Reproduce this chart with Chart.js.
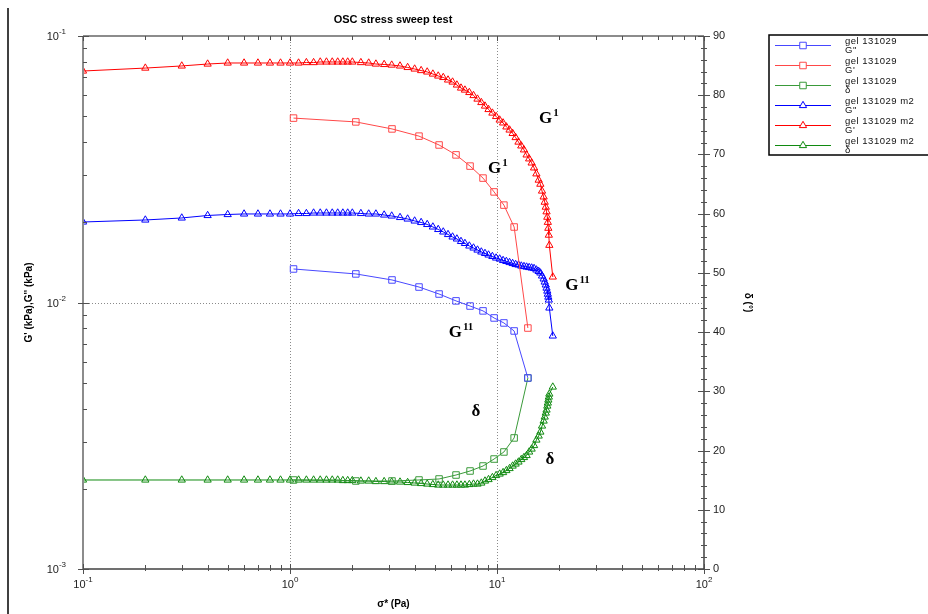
<!DOCTYPE html>
<html>
<head>
<meta charset="utf-8">
<script src="https://cdn.jsdelivr.net/npm/chart.js@4.4.1/dist/chart.umd.min.js"></script>
<style>
  body { margin: 0; background: #fff; }
  canvas { display: block; }
</style>
</head>
<body>
<canvas id="oscChart" width="928" height="614"></canvas>
<script>
// gel 131029 (squares)
const xGel = [1.04, 2.08, 3.11, 4.2, 5.25, 6.34, 7.41, 8.56, 9.68, 10.8, 12.1, 14.1];
const gelGpp = [0.01336, 0.0128, 0.01215, 0.01143, 0.01076, 0.01014, 0.0097, 0.0093, 0.00875, 0.00838, 0.00782, 0.00521];
const gelGp = [0.0492, 0.0476, 0.0448, 0.0421, 0.039, 0.0358, 0.0325, 0.0293, 0.026, 0.0232, 0.0192, 0.00802];
const gelDelta = [15.03, 14.86, 14.86, 15.03, 15.2, 15.87, 16.55, 17.39, 18.57, 19.76, 22.13, 32.25];

// gel 131029 m2 (triangles)
const xM2 = [0.1, 0.2, 0.3, 0.4, 0.5, 0.6, 0.7, 0.8, 0.9, 1.0,
    1.1, 1.2, 1.3, 1.4, 1.5, 1.6, 1.7, 1.8, 1.9, 2.0,
    2.2, 2.4, 2.6, 2.85, 3.1, 3.4, 3.7, 4.0, 4.3, 4.6, 4.9,
    5.2, 5.5, 5.8, 6.1, 6.4, 6.7, 7.0, 7.35, 7.7, 8.05, 8.4, 8.75, 9.1, 9.5, 9.9,
    10.3, 10.7, 11.1, 11.5, 11.9, 12.3, 12.7, 13.1, 13.5, 13.9, 14.3, 14.7, 15.1, 15.5, 15.9,
    16.2, 16.5, 16.8, 17.0, 17.2, 17.35, 17.5, 17.6, 17.7, 17.8, 17.9, 18.6];
const m2Gp = [0.0739, 0.0758, 0.0772, 0.0785, 0.0792, 0.0792, 0.0792, 0.0792, 0.0792, 0.0792,
    0.0792, 0.0795, 0.0795, 0.0799, 0.0799, 0.0799, 0.0799, 0.0799, 0.0799, 0.0799,
    0.0795, 0.0792, 0.0785, 0.0782, 0.0778, 0.0772, 0.0762, 0.0752, 0.0742, 0.0733, 0.072,
    0.0708, 0.0699, 0.0684, 0.0672, 0.0655, 0.0638, 0.0627, 0.0614, 0.0598, 0.058, 0.0563, 0.0546, 0.053, 0.0514, 0.0499,
    0.0484, 0.0472, 0.0456, 0.0444, 0.0431, 0.0416, 0.04, 0.0387, 0.0374, 0.0358, 0.0346, 0.0334, 0.032, 0.0304, 0.0288,
    0.0278, 0.0262, 0.0249, 0.0238, 0.0228, 0.0219, 0.0209, 0.02, 0.019, 0.0179, 0.0164, 0.01247];
const m2Gpp = [0.02005, 0.0204, 0.02076, 0.02121, 0.02139, 0.02149, 0.02149, 0.02149, 0.02149, 0.02149,
    0.02158, 0.02158, 0.02167, 0.02167, 0.02167, 0.02167, 0.02167, 0.02167, 0.02167, 0.02167,
    0.02158, 0.02149, 0.02149, 0.0213, 0.02112, 0.02085, 0.02058, 0.02023, 0.01997, 0.01963, 0.01921,
    0.0188, 0.0184, 0.018, 0.01762, 0.01732, 0.01695, 0.01666, 0.0163, 0.01602, 0.01574, 0.01548, 0.01528, 0.01508, 0.01489, 0.01469,
    0.01457, 0.01438, 0.01426, 0.01413, 0.01401, 0.01389, 0.01383, 0.01371, 0.01365, 0.01359, 0.01353, 0.01348, 0.01342, 0.01325, 0.01308,
    0.01291, 0.01258, 0.01226, 0.01194, 0.01164, 0.01133, 0.01104, 0.01075, 0.01048, 0.01022, 0.00954, 0.00749];
const m2Delta = [15.03, 15.03, 15.03, 15.03, 15.03, 15.03, 15.03, 15.03, 15.03, 15.03,
    15.03, 15.03, 15.03, 15.03, 15.03, 15.03, 15.03, 14.94, 14.94, 14.94,
    14.86, 14.86, 14.77, 14.77, 14.69, 14.69, 14.61, 14.52, 14.44, 14.35, 14.27,
    14.18, 14.18, 14.18, 14.18, 14.18, 14.18, 14.18, 14.27, 14.35, 14.35, 14.52, 14.86, 15.11, 15.45, 15.79,
    16.04, 16.29, 16.63, 16.97, 17.39, 17.73, 18.07, 18.49, 18.83, 19.17, 19.76, 20.26, 20.85, 21.78, 22.46,
    23.13, 24.15, 24.99, 25.67, 26.34, 26.85, 27.52, 28.03, 28.54, 29.04, 29.55, 30.73];

// axis ticks
const xDecades = [0.1, 1, 10, 100];
const xExponents = ["-1", "0", "1", "2"];
const yDecades = [0.001, 0.01, 0.1];
const yExponents = ["-3", "-2", "-1"];
const deltaTicks = [0, 10, 20, 30, 40, 50, 60, 70, 80, 90];

// text labels placed on the curves
const curveLabels = [
    { text: "G", sup: "1", x: 17.8, y: 0.0497 },
    { text: "G", sup: "1", x: 10.1, y: 0.0322 },
    { text: "G", sup: "11", x: 24.5, y: 0.01173 },
    { text: "G", sup: "11", x: 6.7, y: 0.00782 },
    { text: "δ", sup: "", x: 7.92, y: 0.00395 },
    { text: "δ", sup: "", x: 18.0, y: 0.00261 },
];

const legendItems = [
    { label: ["gel 131029", 'G"'], color: "#4848ff", point: "rect" },
    { label: ["gel 131029", "G'"], color: "#ff4848", point: "rect" },
    { label: ["gel 131029", "δ"], color: "#3a9a3a", point: "rect" },
    { label: ["gel 131029 m2", 'G"'], color: "#0000ff", point: "triangle" },
    { label: ["gel 131029 m2", "G'"], color: "#ff0000", point: "triangle" },
    { label: ["gel 131029 m2", "δ"], color: "#108a10", point: "triangle" },
];

const SANS = '"Liberation Sans", Arial, sans-serif';
const SERIF = '"Liberation Serif", "Times New Roman", serif';

function pairs(xs, ys) {
    return xs.map((x, i) => ({ x: x, y: ys[i] }));
}

function series(label, xs, ys, color, point, axis) {
    return {
        label: label,
        data: pairs(xs, ys),
        yAxisID: axis,
        borderColor: color,
        backgroundColor: color,
        borderWidth: 1,
        pointStyle: point,
        pointRadius: point === "rect" ? 4.6 : 4.2,
        pointBorderWidth: 1,
        pointBorderColor: color,
        pointBackgroundColor: "rgba(255,255,255,0)",
        tension: 0,
    };
}

function powLabel(ctx, exp, x, y, align) {
    ctx.font = "11px " + SANS;
    const wb = ctx.measureText("10").width;
    ctx.font = "8px " + SANS;
    const we = ctx.measureText(exp).width;
    const w = wb + we;
    let left = x;
    if (align === "right") left = x - w;
    if (align === "center") left = x - w / 2;
    ctx.textAlign = "left";
    ctx.textBaseline = "alphabetic";
    ctx.font = "11px " + SANS;
    ctx.fillText("10", left, y + 4);
    ctx.font = "8px " + SANS;
    ctx.fillText(exp, left + wb, y - 2);
}

function line(ctx, x1, y1, x2, y2) {
    ctx.beginPath();
    ctx.moveTo(x1, y1);
    ctx.lineTo(x2, y2);
    ctx.stroke();
}

// grid lines, axes, ticks, titles, legend
const framePlugin = {
    id: "framePlugin",
    beforeDatasetsDraw(chart) {
        const { ctx, chartArea: a, scales } = chart;
        ctx.save();
        ctx.strokeStyle = "#8a8a8a";
        ctx.lineWidth = 1;
        ctx.setLineDash([1, 2]);
        [1, 10].forEach((v) => {
            const px = Math.round(scales.x.getPixelForValue(v)) + 0.5;
            line(ctx, px, a.top, px, a.bottom);
        });
        const py = Math.round(scales.y.getPixelForValue(0.01)) + 0.5;
        line(ctx, a.left, py, a.right, py);
        ctx.restore();
    },
    afterDraw(chart) {
        const { ctx, chartArea: a, scales } = chart;
        const sx = scales.x, sy = scales.y, sd = scales.y1;
        ctx.save();

        // outer frame line on the left
        ctx.strokeStyle = "#000";
        ctx.lineWidth = 1.5;
        line(ctx, 8, 8, 8, 614);

        // axes
        ctx.lineWidth = 2;
        ctx.strokeStyle = "#8c8c8c";
        line(ctx, a.left, a.top, a.left, a.bottom);
        line(ctx, a.left, a.top, a.right, a.top);
        ctx.strokeStyle = "#404040";
        ctx.lineWidth = 1.5;
        line(ctx, a.left, a.bottom, a.right, a.bottom);
        line(ctx, a.right, a.top, a.right, a.bottom);

        // log ticks
        ctx.lineWidth = 1;
        ctx.strokeStyle = "#505050";
        xDecades.slice(0, 3).forEach((d) => {
            for (let m = 1; m <= 10; m++) {
                const px = Math.round(sx.getPixelForValue(d * m)) + 0.5;
                const major = m === 1 || m === 10;
                line(ctx, px, a.bottom - (major ? 5 : 4), px, a.bottom + (major ? 5 : 2));
                line(ctx, px, a.top, px, a.top + (major ? 5 : 4));
            }
        });
        yDecades.slice(0, 2).forEach((d) => {
            for (let m = 1; m <= 10; m++) {
                const py = Math.round(sy.getPixelForValue(d * m)) + 0.5;
                const major = m === 1 || m === 10;
                line(ctx, a.left - (major ? 5 : 0), py, a.left + (major ? 6 : 4), py);
            }
        });
        for (let v = 0; v <= 90; v += 2) {
            const py = Math.round(sd.getPixelForValue(v)) + 0.5;
            const major = v % 10 === 0;
            line(ctx, a.right - (major ? 6 : 3), py, a.right + (major ? 6 : 3), py);
        }

        // tick labels
        ctx.fillStyle = "#222";
        xDecades.forEach((v, i) => {
            powLabel(ctx, xExponents[i], sx.getPixelForValue(v), a.bottom + 15, "center");
        });
        yDecades.forEach((v, i) => {
            powLabel(ctx, yExponents[i], a.left - 17, sy.getPixelForValue(v), "right");
        });
        ctx.font = "11px " + SANS;
        ctx.textAlign = "left";
        ctx.textBaseline = "middle";
        deltaTicks.forEach((v) => {
            ctx.fillText(String(v), a.right + 9, sd.getPixelForValue(v));
        });

        // titles
        ctx.fillStyle = "#000";
        ctx.textAlign = "center";
        ctx.font = "bold 11px " + SANS;
        ctx.fillText("OSC stress sweep test", 393, 20);
        ctx.font = "bold 10px " + SANS;
        ctx.fillText("σ* (Pa)", (a.left + a.right) / 2, 604);
        ctx.save();
        ctx.translate(29, (a.top + a.bottom) / 2);
        ctx.rotate(-Math.PI / 2);
        ctx.fillText("G' (kPa),G'' (kPa)", 0, 0);
        ctx.restore();
        ctx.save();
        ctx.translate(748, (a.top + a.bottom) / 2);
        ctx.rotate(Math.PI / 2);
        ctx.fillText("δ (°)", 0, 0);
        ctx.restore();

        // curve labels
        curveLabels.forEach((l) => {
            const cx = sx.getPixelForValue(l.x);
            const cy = sy.getPixelForValue(l.y);
            ctx.font = "bold 17px " + SERIF;
            const wt = ctx.measureText(l.text).width;
            ctx.font = "bold 11px " + SERIF;
            const ws = l.sup ? ctx.measureText(l.sup).width + 1 : 0;
            const left = cx - (wt + ws) / 2;
            ctx.textAlign = "left";
            ctx.textBaseline = "alphabetic";
            ctx.font = "bold 17px " + SERIF;
            ctx.fillText(l.text, left, cy + 6);
            if (l.sup) {
                ctx.font = "bold 11px " + SERIF;
                ctx.fillText(l.sup, left + wt + 1, cy - 1);
            }
        });

        // legend
        ctx.strokeStyle = "#000";
        ctx.lineWidth = 1.5;
        ctx.strokeRect(769, 35, 170, 120);
        legendItems.forEach((item, i) => {
            const ly = 45.5 + 20 * i;
            ctx.strokeStyle = item.color;
            ctx.lineWidth = 1;
            line(ctx, 775, ly, 831, ly);
            ctx.fillStyle = "#fff";
            Chart.helpers.drawPoint(ctx, {
                pointStyle: item.point,
                radius: item.point === "rect" ? 4.6 : 4.2,
                rotation: 0,
                borderWidth: 1,
            }, 803, ly);
            ctx.fillStyle = "#111";
            ctx.font = "9.5px " + SANS;
            ctx.letterSpacing = "0.5px";
            ctx.textAlign = "left";
            ctx.textBaseline = "middle";
            ctx.fillText(item.label[0], 845, ly - 3.8);
            ctx.fillText(item.label[1], 845, ly + 5.2);
            ctx.letterSpacing = "0px";
        });

        ctx.restore();
    },
};

const ctx = document.getElementById("oscChart").getContext("2d");

const oscChart = new Chart(ctx, {
    type: "line",
    data: {
        datasets: [
            series('gel 131029 G"', xGel, gelGpp, "#4848ff", "rect", "y"),
            series("gel 131029 G'", xGel, gelGp, "#ff4848", "rect", "y"),
            series("gel 131029 δ", xGel, gelDelta, "#3a9a3a", "rect", "y1"),
            series('gel 131029 m2 G"', xM2, m2Gpp, "#0000ff", "triangle", "y"),
            series("gel 131029 m2 G'", xM2, m2Gp, "#ff0000", "triangle", "y"),
            series("gel 131029 m2 δ", xM2, m2Delta, "#108a10", "triangle", "y1"),
        ],
    },
    options: {
        responsive: false,
        animation: false,
        layout: {
            padding: { top: 36, left: 0, right: 0, bottom: 0 },
        },
        scales: {
            x: {
                type: "logarithmic",
                position: "bottom",
                min: 0.1,
                max: 100,
                grid: { display: false },
                border: { display: false },
                ticks: { display: false },
                afterFit: (s) => { s.height = 45; },
            },
            y: {
                type: "logarithmic",
                position: "left",
                min: 0.001,
                max: 0.1,
                grid: { display: false },
                border: { display: false },
                ticks: { display: false },
                afterFit: (s) => { s.width = 83; },
            },
            y1: {
                type: "linear",
                position: "right",
                min: 0,
                max: 90,
                grid: { display: false },
                border: { display: false },
                ticks: { display: false },
                afterFit: (s) => { s.width = 224; },
            },
        },
        plugins: {
            legend: { display: false },
            title: { display: false },
            tooltip: { enabled: false },
        },
    },
    plugins: [framePlugin],
});
</script>
</body>
</html>
